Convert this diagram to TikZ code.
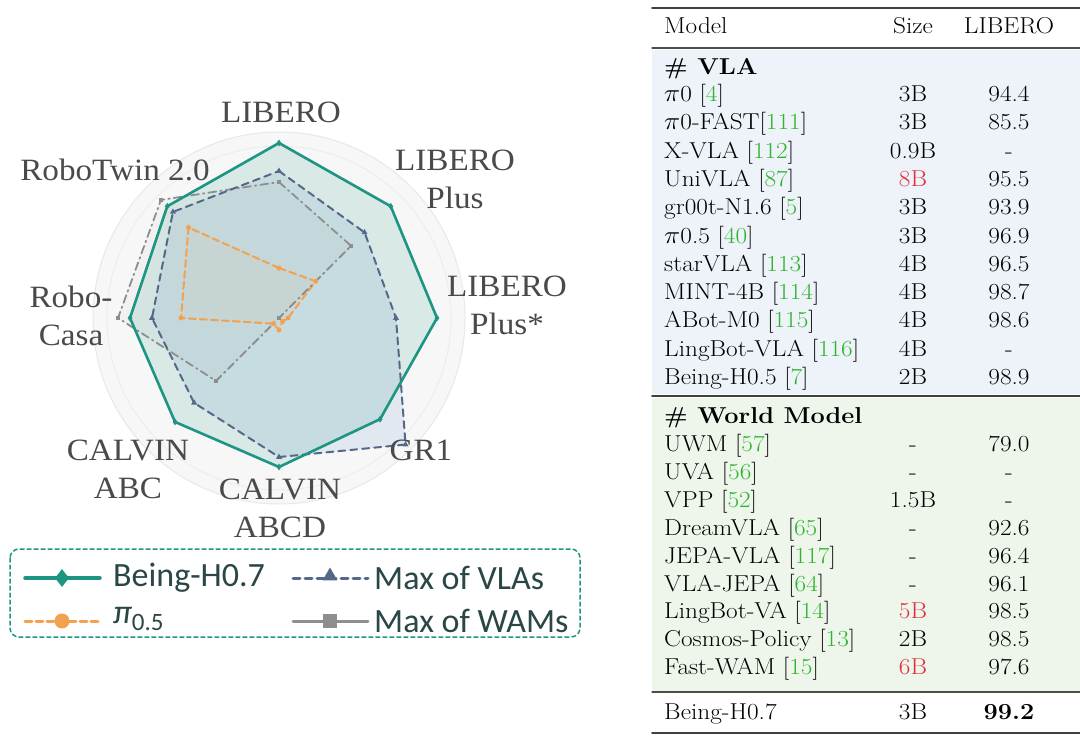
\documentclass[tikz,border=0pt]{standalone}
\usepackage{fontspec}
\usetikzlibrary{shapes.geometric}
\newfontfamily\radarfont{Liberation Serif}
\newfontfamily\legfont{Carlito}
\definecolor{beingc}{HTML}{1E9483}
\definecolor{vlac}{HTML}{56688A}
\definecolor{vlafc}{HTML}{5C86C0}
\definecolor{wamc}{HTML}{8E8E8E}
\definecolor{pizc}{HTML}{F2A24E}
\definecolor{labgray}{HTML}{4A4A4A}
\definecolor{leggray}{HTML}{2A4646}
\definecolor{citec}{HTML}{2DB52D}
\definecolor{sizered}{HTML}{E0303C}
\definecolor{vlabg}{HTML}{EEF2F9}
\definecolor{wmbg}{HTML}{EEF6EC}
\newcommand{\rf}[1]{[\textcolor{citec}{#1}]}
\newcommand{\redsz}[1]{\textcolor{sizered}{#1}}
\begin{document}
\begin{tikzpicture}[x=1pt,y=-1pt, line join=round, line cap=round,
	radlab/.style={font=\radarfont\fontsize{31}{38}\selectfont, text=labgray, align=center, inner sep=0pt, xscale=1.07},
	leglab/.style={font=\legfont\fontsize{34}{38}\selectfont, text=leggray, anchor=west, inner sep=0pt},
	tabcell/.style={font=\fontsize{23}{28}\selectfont, text height=16pt, text depth=5pt, inner sep=0pt, xscale=1.1},
	beingline/.style={draw=beingc, line width=2.6pt},
	vlaline/.style={draw=vlac, line width=2pt, dash pattern=on 7pt off 5pt},
	wamline/.style={draw=wamc, line width=1.8pt, dash pattern=on 8pt off 4pt on 1.5pt off 4pt},
	pizline/.style={draw=pizc, line width=2pt, dash pattern=on 7pt off 4pt},
	bmark/.style={diamond, fill=beingc, inner sep=0pt, minimum width=5pt, minimum height=7pt},
	vmark/.style={regular polygon, regular polygon sides=3, fill=vlac, inner sep=0pt, minimum size=7pt},
	wmark/.style={rectangle, fill=wamc, inner sep=0pt, minimum size=4.5pt},
	pmark/.style={circle, fill=pizc, inner sep=0pt, minimum size=5pt}]
	\useasboundingbox (0,0) rectangle (1080,744);
	\fill[white] (0,0) rectangle (1080,744);
	% radar, axes clockwise from LIBERO
	\begin{scope}[shift={(279,318)}]
		\fill[gray!6] (0,0) circle (186pt);
		\draw[gray!18, line width=1pt] (0,0) circle (186pt);
		\draw[gray!14, line width=1pt] (0,0) circle (172pt);
		\foreach \r [count=\i from 0] in {175,158,158,143,149,147,149,158}
			\coordinate (b\i) at (-90+45*\i:\r);
		\foreach \r [count=\i from 0] in {147,121,117,179,139,120,127,150}
			\coordinate (v\i) at (-90+45*\i:\r);
		\foreach \r [count=\i from 0] in {136,102,0,0,0,89,161,167}
			\coordinate (w\i) at (-90+45*\i:\r);
		\foreach \r [count=\i from 0] in {50,52,9,5,12,8,98,128}
			\coordinate (p\i) at (-90+45*\i:\r);
		\fill[beingc, opacity=.14] (b0) \foreach \i in {1,...,7}{--(b\i)} -- cycle;
		\fill[vlafc, opacity=.13] (v0) \foreach \i in {1,...,7}{--(v\i)} -- cycle;
		\fill[wamc, opacity=.05] (w0) \foreach \i in {1,...,7}{--(w\i)} -- cycle;
		\fill[pizc, opacity=.05] (p0) \foreach \i in {1,...,7}{--(p\i)} -- cycle;
		\draw[pizline] (p0) \foreach \i in {1,...,7}{--(p\i)} -- cycle;
		\draw[wamline] (w0) \foreach \i in {1,...,7}{--(w\i)} -- cycle;
		\draw[vlaline] (v0) \foreach \i in {1,...,7}{--(v\i)} -- cycle;
		\draw[beingline] (b0) \foreach \i in {1,...,7}{--(b\i)} -- cycle;
		\foreach \i in {0,...,7}{
			\node[pmark] (pm\i) at (p\i) {};
			\node[wmark] (wm\i) at (w\i) {};
			\node[vmark] (vm\i) at (v\i) {};
			\node[bmark] (bm\i) at (b\i) {};
		}
	\end{scope}
	\node[radlab] (lib) at (281,112) {LIBERO};
	\node[radlab] (libp) at (455,179) {LIBERO\\Plus};
	\node[radlab] (libps) at (507,305) {LIBERO\\Plus*};
	\node[radlab] (gr) at (421,450) {GR1};
	\node[radlab] (cabcd) at (280,508) {CALVIN\\ABCD};
	\node[radlab] (cabc) at (128,469) {CALVIN\\ABC};
	\node[radlab] (casa) at (71,316) {Robo-\\Casa};
	\node[radlab] (twin) at (115,170) {RoboTwin 2.0};
	% legend
	\draw[beingc, line width=1.5pt, dash pattern=on 4pt off 3pt, rounded corners=9pt] (10,549) rectangle (580,637);
	\draw[beingline, line width=3.5pt] (25,578) -- (100,578);
	\node[bmark, minimum width=14pt, minimum height=18pt] (lb) at (62,578) {};
	\node[leglab] (lbt) at (113,578) {Being-H0.7};
	\draw[vlaline, line width=3pt] (293,578) -- (368,578);
	\node[vmark, minimum size=17pt] (lv) at (330,576) {};
	\node[leglab] (lvt) at (374,578) {Max of VLAs};
	\draw[pizline, line width=3pt] (25,621) -- (100,621);
	\node[pmark, minimum size=15pt] (lp) at (62,621) {};
	\node[leglab] (lpt) at (113,619) {\itshape π\raisebox{-7pt}{\upshape\fontsize{25}{25}\selectfont 0.5}};
	\draw[wamline, solid, line width=3pt] (293,621) -- (368,621);
	\node[wmark, minimum size=14pt] (lw) at (330,621) {};
	\node[leglab] (lwt) at (374,621) {Max of WAMs};
	% table
	\fill[vlabg] (652,49.5) rectangle (1080,394);
	\fill[wmbg] (652,398) rectangle (1080,691);
	\draw[black!75, line width=1.8pt] (652,8) -- (1080,8);
	\draw[black!70, line width=1.2pt] (652,48) -- (1080,48);
	\draw[black!75, line width=2pt] (652,396) -- (1080,396);
	\draw[black!70, line width=1.2pt] (652,692) -- (1080,692);
	\draw[black!75, line width=1.8pt] (652,733) -- (1080,733);
	\node[tabcell, anchor=west] (hm) at (664,28) {Model};
	\node[tabcell] (hs) at (913,28) {Size};
	\node[tabcell] (hv) at (1009,28) {LIBERO};
	\node[tabcell, anchor=west] (vla) at (664,69) {\textbf{\# VLA}};
	\foreach \m/\s/\v [count=\i from 0] in {
		{$\pi$0 \rf{4}}/3B/94.4,
		{$\pi$0-FAST\rf{111}}/3B/85.5,
		{X-VLA \rf{112}}/0.9B/-,
		{UniVLA \rf{87}}/\redsz{8B}/95.5,
		{gr00t-N1.6 \rf{5}}/3B/93.9,
		{$\pi$0.5 \rf{40}}/3B/96.9,
		{starVLA \rf{113}}/4B/96.5,
		{MINT-4B \rf{114}}/4B/98.7,
		{ABot-M0 \rf{115}}/4B/98.6,
		{LingBot-VLA \rf{116}}/4B/-,
		{Being-H0.5 \rf{7}}/2B/98.9}
	{
		\node[tabcell, anchor=west] (vam\i) at (664,96+28.3*\i) {\m};
		\node[tabcell] (vas\i) at (913,96+28.3*\i) {\s};
		\node[tabcell] (vav\i) at (1009,96+28.3*\i) {\v};
	}
	\node[tabcell, anchor=west] (wm) at (664,418) {\textbf{\# World Model}};
	\foreach \m/\s/\v [count=\i from 0] in {
		{UWM \rf{57}}/-/79.0,
		{UVA \rf{56}}/-/-,
		{VPP \rf{52}}/1.5B/-,
		{DreamVLA \rf{65}}/-/92.6,
		{JEPA-VLA \rf{117}}/-/96.4,
		{VLA-JEPA \rf{64}}/-/96.1,
		{LingBot-VA \rf{14}}/\redsz{5B}/98.5,
		{Cosmos-Policy \rf{13}}/2B/98.5,
		{Fast-WAM \rf{15}}/\redsz{6B}/97.6}
	{
		\node[tabcell, anchor=west] (wmm\i) at (664,446+27.9*\i) {\m};
		\node[tabcell] (wms\i) at (913,446+27.9*\i) {\s};
		\node[tabcell] (wmv\i) at (1009,446+27.9*\i) {\v};
	}
	\node[tabcell, anchor=west] (om) at (664,714) {Being-H0.7};
	\node[tabcell] (os) at (913,714) {3B};
	\node[tabcell] (ov) at (1009,714) {\textbf{99.2}};
\end{tikzpicture}
\end{document}
